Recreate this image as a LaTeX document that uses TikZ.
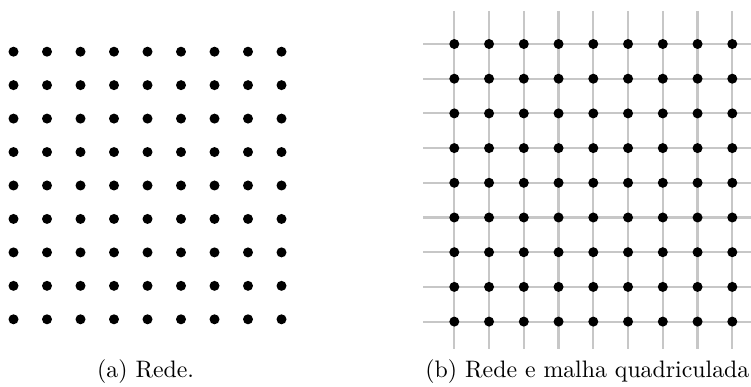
\documentclass[tikz,border=0pt]{standalone}
\begin{document}
\begin{tikzpicture}[x=0.42pt,y=-0.42pt,
  dot/.style={circle,fill=black,inner sep=0pt,minimum size=4.2pt},
  gridline/.style={line width=0.9pt,color=black!22},
  caption/.style={anchor=base west,inner sep=0pt,font=\fontsize{10}{12}\selectfont}]
\useasboundingbox (0,0) rectangle (751,387);
% (a) lattice
\foreach \i in {0,...,8}{
  \foreach \j in {0,...,8}{
    \node[dot] (a-\i-\j) at ({13.5+33.5*\i},{51.7+33.45*\j}) {};
  }
}
% (b) lattice with grid
\foreach \i in {0,...,8}{
  \coordinate (vt\i) at ({454.3+34.75*\i},11);
  \coordinate (vb\i) at ({454.3+34.75*\i},349);
  \draw[gridline] (vt\i) -- (vb\i);
  \coordinate (hl\i) at (423,{44+34.7*\i});
  \coordinate (hr\i) at (751,{44+34.7*\i});
  \draw[gridline] (hl\i) -- (hr\i);
}
\foreach \i in {0,...,8}{
  \foreach \j in {0,...,8}{
    \node[dot] (b-\i-\j) at ({454.3+34.75*\i},{44+34.7*\j}) {};
  }
}
\node[caption] (capa) at (96.7,377) {(a) Rede.};
\node[caption] (capb) at (425,377) {(b) Rede e malha quadriculada};
\end{tikzpicture}
\end{document}
